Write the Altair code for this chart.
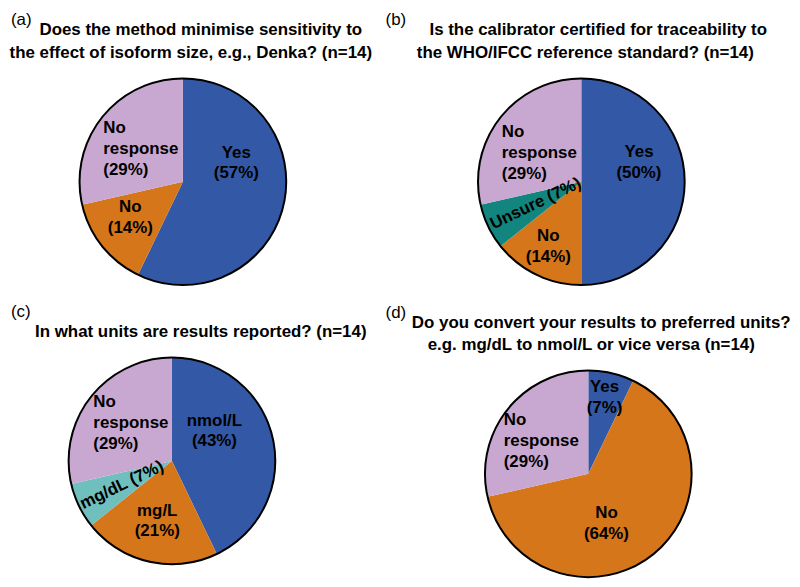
import altair as alt
import pandas as pd

FONT = "Liberation Sans"

# ---------------- data ----------------
a_cats = ["Yes", "No", "No response"]
a_counts = [8, 2, 4]
a_labels = ["Yes\n(57%)", "No\n(14%)", "No\nresponse\n(29%)"]
a_title = ["Does the method minimise sensitivity to",
           "the effect of isoform size, e.g., Denka? (n=14)"]

b_cats = ["Yes", "No", "Unsure", "No response"]
b_counts = [7, 2, 1, 4]
b_labels = ["Yes\n(50%)", "No\n(14%)", "Unsure (7%)", "No\nresponse\n(29%)"]
b_title = ["Is the calibrator certified for traceability to",
           "the WHO/IFCC reference standard? (n=14)"]

c_cats = ["nmol/L", "mg/L", "mg/dL", "No response"]
c_counts = [6, 3, 1, 4]
c_labels = ["nmol/L\n(43%)", "mg/L\n(21%)", "mg/dL (7%)", "No\nresponse\n(29%)"]
c_title = ["In what units are results reported? (n=14)"]

d_cats = ["Yes", "No", "No response"]
d_counts = [1, 9, 4]
d_labels = ["Yes\n(7%)", "No\n(64%)", "No\nresponse\n(29%)"]
d_title = ["Do you convert your results to preferred units?",
           "e.g. mg/dL to nmol/L or vice versa (n=14)"]

# ---------------- style ----------------
BLUE = "#3359A6"
ORANGE = "#D6761B"
LILAC = "#C8A8D0"
TEAL = "#13857F"
LTEAL = "#70BFBF"
R = 104
LH = 21


def panel(letter, title_lines, cats, counts, labels, colors, lstyle,
          width, height, letter_pos, title_pos):
    df = pd.DataFrame({"cat": cats, "n": counts, "label": labels,
                       "order": list(range(len(cats)))})
    total = sum(counts)
    tscale = alt.Scale(domain=[0, total])
    base = (alt.Chart(df)
            .transform_window(cum="sum(n)", sort=[alt.SortField("order")])
            .transform_calculate(start="datum.cum - datum.n",
                                 mid="datum.cum - datum.n / 2"))
    arcs = base.mark_arc(outerRadius=R).encode(
        theta=alt.Theta("start:Q", scale=tscale),
        theta2="cum:Q",
        color=alt.Color("cat:N", scale=alt.Scale(domain=cats, range=colors),
                        legend=None),
    )
    outline = (alt.Chart(df)
               .transform_aggregate(total="sum(n)")
               .transform_calculate(zero="0")
               .mark_arc(outerRadius=R, fillOpacity=0, stroke="black",
                         strokeWidth=2)
               .encode(theta=alt.Theta("zero:Q", scale=tscale),
                       theta2="total:Q"))
    layers = [arcs, outline]
    for cat, lab, st in zip(cats, labels, lstyle):
        nlines = lab.count("\n") + 1
        props = dict(radius=st[0], dx=st[1],
                     dy=st[2] - (nlines - 1) * LH / 2, align=st[3],
                     baseline="middle", font=FONT, fontSize=17,
                     fontWeight="bold", lineBreak="\n", lineHeight=LH,
                     color="black")
        if len(st) > 4:
            props["angle"] = st[4]
        layers.append(
            base.transform_filter(alt.datum.cat == cat)
            .mark_text(**props)
            .encode(theta=alt.Theta("mid:Q", scale=tscale), text="label:N"))
    ann = alt.Chart(pd.DataFrame({"k": [0]}))
    layers.append(
        ann.mark_text(align="left", baseline="alphabetic", font=FONT,
                      fontSize=17, color="black")
        .encode(x=alt.value(letter_pos[0]), y=alt.value(letter_pos[1]),
                text=alt.value(letter)))
    for line, (tx, ty) in zip(title_lines, title_pos):
        layers.append(
            ann.mark_text(align="center", baseline="alphabetic", font=FONT,
                          fontSize=17, fontWeight="bold", color="black")
            .encode(x=alt.value(tx), y=alt.value(ty), text=alt.value(line)))
    return alt.layer(*layers).properties(width=width, height=height)


pa = panel("(a)", a_title, a_cats, a_counts, a_labels, [BLUE, ORANGE, LILAC],
           [(50, 5, -30, "center"), (60, -6, -1, "center"),
            (50, -41, -2, "left")],
           208, 208, (-69, -54), [(122, -44), (112, -21)])
pb = panel("(b)", b_title, b_cats, b_counts, b_labels,
           [BLUE, ORANGE, TEAL, LILAC],
           [(58, 0, -19, "center"), (72, -2, 0, "center"),
            (51, 0, 0, "center", 334.3), (50, -41, 2, "left")],
           208, 208, (-93, -54), [(121, -44), (108, -21)])
pc = panel("(c)", c_title, c_cats, c_counts, c_labels,
           [BLUE, ORANGE, LTEAL, LILAC],
           [(50, -6, -19, "center"), (62, -1, 0, "center"),
            (56, 0, 0, "center", 334.3), (50, -40, -7, "left")],
           186, 182, (-69, -54), [(122, -34)])
pd_ = panel("(d)", d_title, d_cats, d_counts, d_labels, [BLUE, ORANGE, LILAC],
            [(78, -1, -1, "center"), (55, -16, 7, "center"),
             (50, -46, -2, "left")],
            208, 208, (-100, -53), [(117, -43), (107, -21)])

row1 = alt.hconcat(pa, pb, spacing=193, bounds="flush").resolve_scale(
    theta="independent", color="independent")
row2 = alt.hconcat(pc, pd_, spacing=222, bounds="flush").resolve_scale(
    theta="independent", color="independent")
chart = (alt.vconcat(row1, row2, spacing=12, bounds="full")
         .resolve_scale(theta="independent", color="independent")
         .properties(padding=0)
         .configure_view(stroke="transparent"))

chart.save("out.html", embed_options={"renderer": "svg", "actions": False})
